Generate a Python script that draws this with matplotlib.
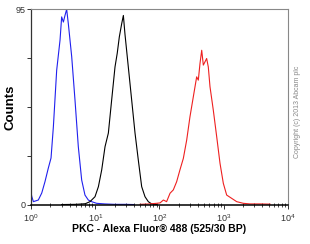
import matplotlib.pyplot as plt
from matplotlib.ticker import LogLocator, NullFormatter, FixedLocator

plt.rcParams['font.family'] = ['Liberation Sans', 'DejaVu Sans']

### DATA ###

blue_x = [1.0, 1.03, 1.09, 1.3, 1.47, 1.65, 1.86, 2.05, 2.23, 2.51, 2.83, 3.0, 3.19,
          3.38, 3.59, 3.81, 4.3, 4.84, 5.45, 6.15, 6.92, 7.8, 8.8, 10.5, 14, 20, 30, 40]
blue_y = [6.0, 4.0, 1.6, 2.4, 5.8, 11.3, 17.9, 22.8, 38, 65.4, 80, 91.3, 88.8,
          92, 95, 88, 72, 50.9, 28.3, 12.1, 4.8, 2.4, 1.6, 0.8, 0.5, 0.3, 0.3, 0.2]

black_x = [3, 5, 7, 8.28, 9.91, 11.2, 12.6, 14.2, 16.0, 18.0, 20.3, 22.0, 23.7, 25.8,
           27.4, 29.0, 32.7, 36.9, 41.6, 46.8, 52.8, 59.5, 67, 75.5, 90]
black_y = [0.2, 0.3, 0.6, 1.6, 4.0, 8.9, 17, 28.3, 34.9, 50.9, 67, 73.7, 81.6, 88,
           92, 83, 67, 50.9, 34.9, 21.8, 8.9, 4.0, 1.6, 0.5, 0.2]

red_x = [50, 70, 90, 102, 115, 129, 146, 164, 185, 208, 235, 265, 298, 336, 379, 402,
         427, 454, 481, 511, 542, 575, 611, 688, 777, 875, 985, 1111, 1330, 1591,
         2015, 2563, 3665, 5250]
red_y = [0.3, 0.5, 0.8, 1.0, 2.4, 1.6, 5.7, 7.3, 11.3, 17, 22.6, 31.5, 42.8, 52.5, 62.2, 60.6,
         68.7, 75.1, 67.9, 69.5, 71.1, 67, 57.4, 46, 33.1, 20.2, 10.5, 4.8, 3.2, 1.6,
         0.8, 0.5, 0.5, 0.4]

y_ticks = [0, 23.75, 47.5, 71.25, 95]
y_labels = ['0', '', '', '', '95']

### PLOT ###

fig = plt.figure(figsize=(3.1, 2.44), dpi=100)
ax = fig.add_axes([0.1, 0.16, 0.829, 0.802])

ax.plot(blue_x, blue_y, color='#2020ee', linewidth=0.8)
ax.plot(black_x, black_y, color='black', linewidth=0.8)
ax.plot(red_x, red_y, color='#ee2020', linewidth=0.8)

ax.set_xscale('log')
ax.set_xlim(1, 1e4)
ax.set_ylim(0, 95)

ax.xaxis.set_major_locator(LogLocator(base=10, numticks=10))
ax.xaxis.set_minor_locator(LogLocator(base=10, subs=range(2, 10), numticks=10))
ax.xaxis.set_minor_formatter(NullFormatter())
ax.tick_params(axis='x', which='major', length=3, width=0.7, labelsize=6.5, pad=2, colors='#333333')
ax.tick_params(axis='x', which='minor', length=2.5, width=0.5, direction='inout')

ax.yaxis.set_major_locator(FixedLocator(y_ticks))
ax.set_yticklabels(y_labels)
ax.tick_params(axis='y', length=3, width=0.7, labelsize=6.5, pad=1, colors='#333333')

for side in ['top', 'right']:
    ax.spines[side].set_color('#888888')
    ax.spines[side].set_linewidth(0.8)
ax.spines['left'].set_color('#333333')
ax.spines['left'].set_linewidth(0.9)
ax.spines['bottom'].set_linewidth(1.1)

ax.set_xlabel('PKC - Alexa Fluor® 488 (525/30 BP)', fontsize=7.5, fontweight='bold', labelpad=0)
ax.set_ylabel('Counts', fontsize=9.5, fontweight='bold')
ax.yaxis.set_label_coords(-0.058, 0.5)

fig.text(0.96, 0.54, 'Copyright (c) 2013 Abcam plc', rotation=90, fontsize=5,
         color='#888888', ha='center', va='center')

fig.savefig('out.png', dpi=100)
